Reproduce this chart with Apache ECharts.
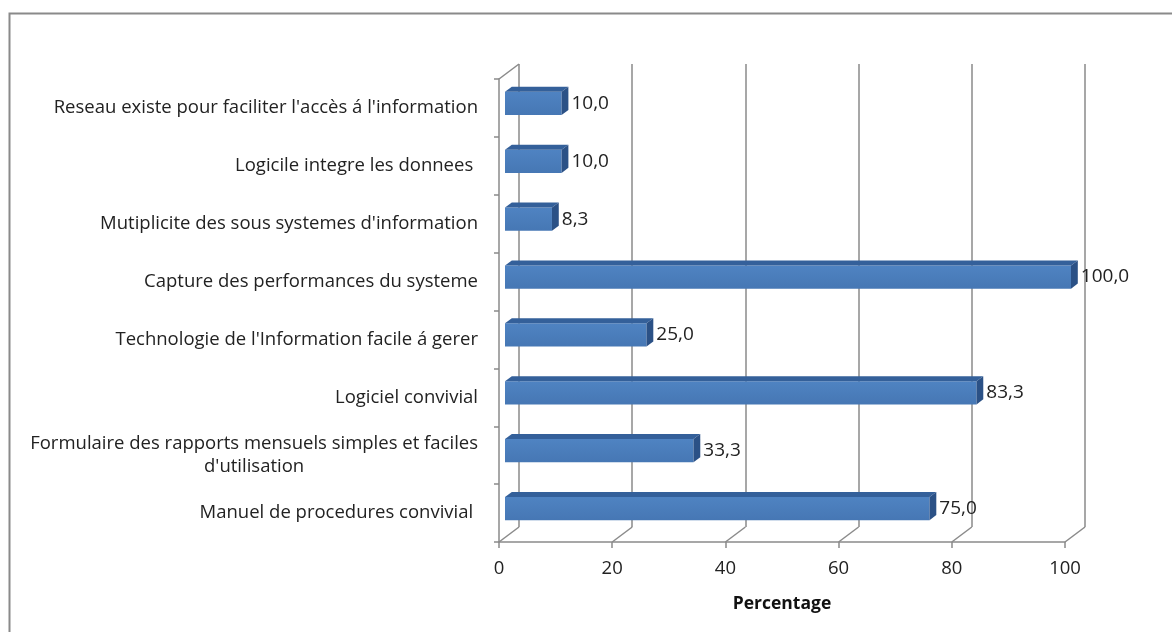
<!DOCTYPE html>
<html>
<head>
<meta charset="utf-8">
<script src="https://cdn.jsdelivr.net/npm/echarts@6/dist/echarts.min.js"></script>
<style>html,body{margin:0;padding:0;background:#fff}#c{width:1172px;height:632px}</style>
</head>
<body>
<div id="c"></div>
<script>
// Categories listed from bottom to top
const categories = [
  "Manuel de procedures convivial ",
  "Formulaire des rapports mensuels simples et faciles\nd'utilisation",
  "Logiciel convivial",
  "Technologie de l'Information facile á gerer",
  "Capture des performances du systeme",
  "Mutiplicite des sous systemes d'information",
  "Logicile integre les donnees ",
  "Reseau existe pour faciliter l'accès á l'information"
];
const percentages = [75.0, 33.3, 83.3, 25.0, 100.0, 8.3, 10.0, 10.0];
const xTicks = [0, 20, 40, 60, 80, 100];
const axisTitle = "Percentage";

const FONT = "Open Sans";
const DEPTH_X = 20, DEPTH_Y = -15;
const chart = echarts.init(document.getElementById('c'), null, {renderer: 'canvas'});

function fmt(v){ return v.toFixed(1).replace('.', ','); }

const option = {
  animation: false,
  backgroundColor: '#ffffff',
  graphic: [{
    type: 'rect', left: 7, top: 11, z: -10,
    shape: {width: 1250, height: 700},
    style: {fill: 'none', stroke: '#8a8a8a', lineWidth: 2}
  }],
  grid: [
    {left: 499, right: 107, top: 79, bottom: 90},
    {left: 519, right: 87, top: 64, bottom: 105}
  ],
  xAxis: [
    {
      type: 'value', gridIndex: 0, min: 0, max: 100, interval: 20,
      axisLine: {show: true, lineStyle: {color: '#8a8a8a', width: 1.5}},
      axisTick: {show: true, length: 6, lineStyle: {color: '#8a8a8a', width: 1.5}},
      splitLine: {show: false},
      axisLabel: {color: '#222', fontFamily: FONT, fontSize: 18.5, margin: 17,
        formatter: v => xTicks.indexOf(v) >= 0 ? String(v) : ''},
      name: axisTitle, nameLocation: 'middle', nameGap: 53,
      nameTextStyle: {color: '#111', fontFamily: FONT, fontSize: 17.5, fontWeight: 'bold'}
    },
    {
      type: 'value', gridIndex: 1, min: 0, max: 100, interval: 20,
      axisLine: {show: false}, axisTick: {show: false}, axisLabel: {show: false},
      splitLine: {show: true, lineStyle: {color: '#8a8a8a', width: 1.5}}
    }
  ],
  yAxis: [
    {
      type: 'category', gridIndex: 0, data: categories,
      axisLine: {show: true, lineStyle: {color: '#8a8a8a', width: 1.5}},
      axisTick: {show: true, length: 5, lineStyle: {color: '#8a8a8a', width: 1.5}},
      axisLabel: {color: '#222', fontFamily: FONT, fontSize: 18.5, margin: 21, lineHeight: 23,
        formatter: v => '{c|' + v.split('\n').join('}\n{c|') + '}',
        rich: {c: {align: 'center', color: '#222', fontFamily: FONT, fontSize: 18.5, lineHeight: 23}}
      }
    },
    {
      type: 'category', gridIndex: 1, data: categories, show: false
    }
  ],
  series: [
    {
      type: 'custom', xAxisIndex: 0, yAxisIndex: 0, z: 1,
      data: xTicks.map(t => [t, 0]),
      encode: {x: 0, y: 1},
      renderItem: function(params, api){
        const cs = params.coordSys;
        const px = api.coord([api.value(0), 0])[0];
        const bottom = cs.y + cs.height;
        const style = {stroke: '#8a8a8a', lineWidth: 1.5, fill: 'none'};
        const children = [{
          type: 'line', shape: {x1: px, y1: bottom, x2: px + DEPTH_X, y2: bottom + DEPTH_Y}, style: style
        }];
        if (api.value(0) === 0) {
          children.push({type: 'line', shape: {x1: px, y1: cs.y, x2: px + DEPTH_X, y2: cs.y + DEPTH_Y}, style: style});
        }
        return {type: 'group', children: children};
      }
    },
    {
      type: 'custom', xAxisIndex: 0, yAxisIndex: 0, z: 5,
      data: percentages.map((v, i) => [v, i]),
      encode: {x: 0, y: 1},
      renderItem: function(params, api){
        const v = api.value(0), ci = api.value(1);
        const p0 = api.coord([0, ci]);
        const p1 = api.coord([v, ci]);
        const band = api.size([0, 1])[1];
        const h = band * 0.4;
        const fx = 0.3 * DEPTH_X, fy = 0.3 * DEPTH_Y;
        const bx = 0.34 * DEPTH_X, by = 0.34 * DEPTH_Y;
        const x0 = p0[0] + fx, x1 = p1[0] + fx;
        const yc = p0[1] + fy;
        const top = yc - h / 2, bot = yc + h / 2;
        return {
          type: 'group',
          children: [
            {type: 'rect', shape: {x: x0, y: top, width: x1 - x0, height: h},
              style: {fill: new echarts.graphic.LinearGradient(0, 0, 0, 1, [
                {offset: 0, color: '#4f83c2'}, {offset: 1, color: '#4677b4'}])}},
            {type: 'polygon', shape: {points: [[x0, top], [x1, top], [x1 + bx, top + by], [x0 + bx, top + by]]},
              style: {fill: '#34609a'}},
            {type: 'polygon', shape: {points: [[x1, top], [x1 + bx, top + by], [x1 + bx, bot + by], [x1, bot]]},
              style: {fill: '#2b5186'}},
            {type: 'text', style: {x: x1 + bx + 3, y: yc, text: fmt(v), textAlign: 'left', textVerticalAlign: 'middle',
              fill: '#222', font: '19px "' + FONT + '"'}}
          ]
        };
      }
    }
  ]
};
chart.setOption(option);
</script>
</body>
</html>
